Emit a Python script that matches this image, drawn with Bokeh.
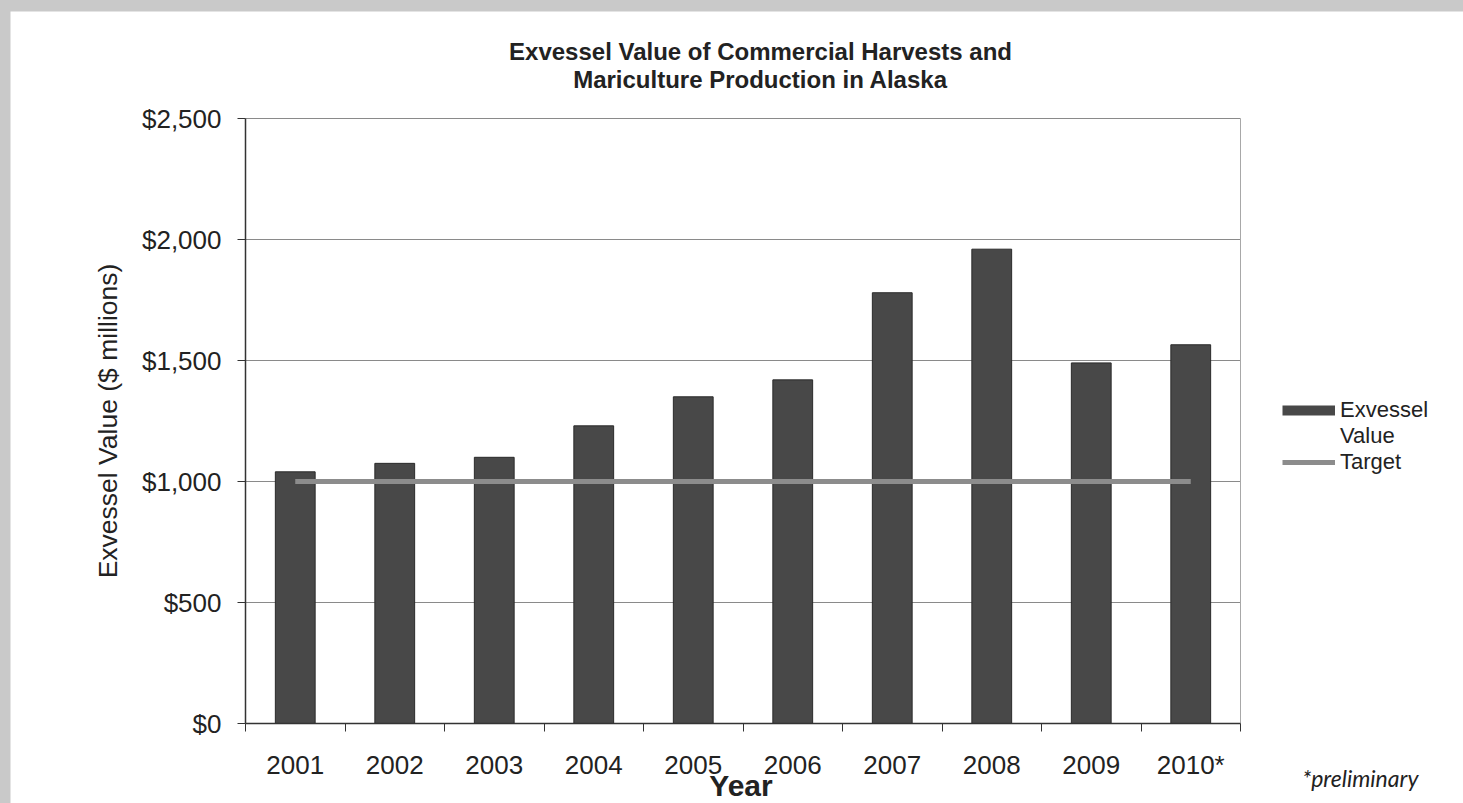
from bokeh.plotting import figure
from bokeh.models import (FixedTicker, NumeralTickFormatter, Label, Legend, LegendItem,
                          Range1d, Column)
from bokeh.embed import file_html
from bokeh.resources import INLINE

# ---- data ----
years = ["2001", "2002", "2003", "2004", "2005", "2006", "2007", "2008", "2009", "2010*"]
exvessel_value = [1040, 1075, 1100, 1230, 1350, 1420, 1780, 1960, 1490, 1565]
target_value = [1000, 1000, 1000, 1000, 1000, 1000, 1000, 1000, 1000, 1000]
y_ticks = [0, 500, 1000, 1500, 2000, 2500]
title_lines = ["Exvessel Value of Commercial Harvests and", "Mariculture Production in Alaska"]

FONT = "Liberation Sans"
TXT = "#222222"

n = len(years)
centers = [i + 0.5 for i in range(n)]
boundaries = list(range(n + 1))
y_max = y_ticks[-1]

# pixel geometry of the plot area inside the figure (figure is 1453 x 792)
W, H = 1453, 792
PX_PER_CAT = 99.5
PX_PER_UNIT = 605 / y_max
LEFT, BOTTOM = 235, 80  # plot-area offset from figure left / bottom

p = figure(width=W, height=H, title=None,
           x_range=Range1d(-LEFT / PX_PER_CAT, (W - LEFT) / PX_PER_CAT),
           y_range=Range1d(-BOTTOM / PX_PER_UNIT, (H - BOTTOM) / PX_PER_UNIT),
           output_backend="svg", toolbar_location=None,
           min_border=0, background_fill_color="white", border_fill_color="white")
p.outline_line_color = None
p.xgrid.grid_line_color = None
p.ygrid.grid_line_color = None

# horizontal gridlines (plot-area top border is the top gridline)
p.segment(x0=0, x1=n, y0=y_ticks[1:], y1=y_ticks[1:], line_color="#8a8a8a", line_width=1)
# right border of the plot area
p.segment(x0=[n], x1=[n], y0=[0], y1=[y_max], line_color="#a8a8a8", line_width=1)

# bars
p.vbar(x=centers, top=exvessel_value, width=0.4, fill_color="#484848", line_color="#2a2a2a", line_width=1)
# target line
r_target = p.line(x=centers, y=target_value, line_color="#8c8c8c", line_width=5)

# legend proxies (drawn far outside the visible ranges)
r_bar_proxy = p.line(x=[-100, -99], y=[-1e6, -1e6], line_color="#484848", line_width=10)
r_blank = p.line(x=[-100, -99], y=[-1e6, -1e6], line_alpha=0)

xa = p.xaxis[0]
xa.fixed_location = 0
xa.bounds = (0, n)
xa.ticker = FixedTicker(ticks=centers, minor_ticks=boundaries)
xa.major_label_overrides = {c: y for c, y in zip(centers, years)}
xa.major_tick_out = 0
xa.major_tick_in = 0
xa.major_tick_line_color = None
xa.minor_tick_out = 8
xa.minor_tick_in = 0
xa.minor_tick_line_color = "#333333"
xa.axis_line_color = "#333333"
xa.axis_line_width = 1.5
xa.major_label_text_font = FONT
xa.major_label_text_font_size = "26px"
xa.major_label_text_color = TXT
xa.major_label_standoff = 18

ya = p.yaxis[0]
ya.fixed_location = 0
ya.bounds = (0, y_max)
ya.ticker = FixedTicker(ticks=y_ticks)
ya.formatter = NumeralTickFormatter(format="$0,0")
ya.major_tick_out = 8
ya.major_tick_in = 0
ya.minor_tick_line_color = None
ya.major_tick_line_color = "#333333"
ya.axis_line_color = "#333333"
ya.axis_line_width = 1.5
ya.major_label_text_font = FONT
ya.major_label_text_font_size = "26px"
ya.major_label_text_color = TXT
ya.major_label_standoff = 16
ya.axis_label = "Exvessel Value ($ millions)"
ya.axis_label_text_font = FONT
ya.axis_label_text_font_size = "26.5px"
ya.axis_label_text_font_style = "normal"
ya.axis_label_text_color = TXT
ya.axis_label_standoff = 16

# title
p.add_layout(Label(x=5.176, y=2777, text=title_lines[0], text_align="center", text_baseline="alphabetic",
                   text_font=FONT, text_font_style="bold", text_font_size="24px", text_color=TXT))
p.add_layout(Label(x=5.176, y=2661, text=title_lines[1], text_align="center", text_baseline="alphabetic",
                   text_font=FONT, text_font_style="bold", text_font_size="24px", text_color=TXT))
# x axis title
p.add_layout(Label(x=4.98, y=-256, text="Year", text_align="center", text_baseline="alphabetic",
                   text_font=FONT, text_font_style="bold", text_font_size="30px", text_color=TXT))
# footnote
p.add_layout(Label(x=10.62, y=-225, text="*preliminary", text_align="left", text_baseline="alphabetic",
                   text_font="Lato", text_font_style="italic", text_font_size="23px", text_color=TXT))

legend = Legend(items=[LegendItem(label="Exvessel", renderers=[r_bar_proxy]),
                       LegendItem(label="Value", renderers=[r_blank]),
                       LegendItem(label="Target", renderers=[r_target])],
                location=(1272, 328), padding=0, margin=0, spacing=0,
                glyph_width=53, glyph_height=20, label_height=20, label_standoff=5,
                label_text_font=FONT, label_text_font_size="22px", label_text_color=TXT,
                border_line_color=None, background_fill_alpha=0)
p.add_layout(legend)

layout = Column(p, styles={"background-color": "#c9c9c9", "padding": "11px 0px 0px 10px"})

open("out.html", "w").write(file_html(layout, INLINE))
